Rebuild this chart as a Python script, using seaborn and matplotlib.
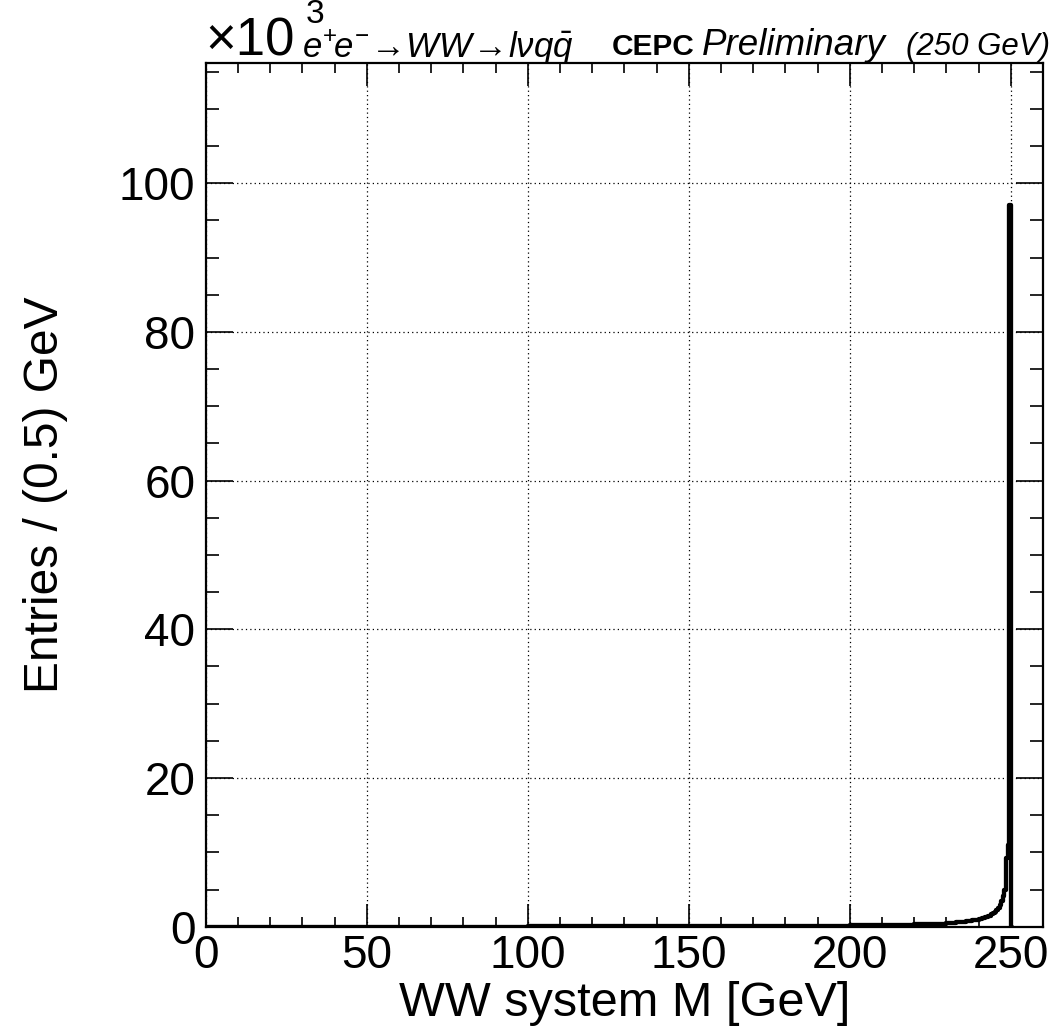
import numpy as np
import pandas as pd
import matplotlib
matplotlib.use("Agg")
import matplotlib.pyplot as plt
import seaborn as sns
from matplotlib.ticker import MultipleLocator, FixedLocator

# ---- data (entries per 0.5 GeV, in units of 10^3) ----
bin_edges = [0, 50, 100, 125, 150, 175, 200, 210, 220, 225, 230, 233, 236, 238,
             240, 241, 242, 243, 244, 244.5, 245, 245.5, 246, 246.5, 247, 247.5,
             248, 248.5, 249, 249.5, 250, 250.5]
entries_k = [0.01, 0.02, 0.04, 0.06, 0.10, 0.15, 0.20, 0.25, 0.30, 0.40, 0.50,
             0.60, 0.75, 0.90, 1.00, 1.15, 1.30, 1.50, 1.70, 1.85, 2.00, 2.20,
             2.50, 2.90, 3.40, 4.10, 5.00, 9.20, 11.0, 97.0, 0.0]

x_ticks = [0, 50, 100, 150, 200, 250]
y_ticks = [0, 20, 40, 60, 80, 100]
x_label = "WW system M [GeV]"
y_label = "Entries / (0.5) GeV"

sns.set_style("ticks")
plt.rcParams['font.family'] = ['Liberation Sans', 'DejaVu Sans']
plt.rcParams['mathtext.fontset'] = 'custom'
plt.rcParams['mathtext.rm'] = 'Liberation Sans'
plt.rcParams['mathtext.it'] = 'Liberation Sans:italic'
plt.rcParams['mathtext.bf'] = 'Liberation Sans:bold'
for k in ['text.color', 'axes.labelcolor', 'xtick.color', 'ytick.color',
          'xtick.labelcolor', 'ytick.labelcolor', 'axes.edgecolor']:
    plt.rcParams[k] = 'black'

W, H = 1058, 1035
fig = plt.figure(figsize=(W / 100, H / 100), dpi=100)
ax = fig.add_axes([205.7 / W, 1 - 926.7 / H, (1043 - 205.7) / W, 864 / H])

edges = np.array(bin_edges)
centers = 0.5 * (edges[:-1] + edges[1:])
df = pd.DataFrame({"mass": centers, "entries": entries_k})

sns.histplot(data=df, x="mass", weights="entries", bins=bin_edges,
             element="step", fill=False, color="black", linewidth=3.1, ax=ax)

ax.set_xlim(0, 260)
ax.set_ylim(0, 116.2)
ax.xaxis.set_major_locator(FixedLocator(x_ticks))
ax.yaxis.set_major_locator(FixedLocator(y_ticks))
ax.xaxis.set_minor_locator(MultipleLocator(10))
ax.yaxis.set_minor_locator(MultipleLocator(5))

ax.set_axisbelow(True)
ax.grid(True, which="major", color="black", linestyle=(0, (1, 2.5)), linewidth=0.9)

for s in ax.spines.values():
    s.set_linewidth(1.6)
    s.set_color("black")
    s.set_visible(True)

ax.tick_params(which="both", direction="in", top=True, right=True,
               color="black", labelcolor="black", width=1.2, labelsize=33)
ax.tick_params(axis="x", which="major", length=16.5, pad=5)
ax.tick_params(axis="x", which="minor", length=7.5)
ax.tick_params(axis="y", which="major", length=19.5, pad=7.5)
ax.tick_params(axis="y", which="minor", length=9.5)

ax.set_xlabel(x_label, fontsize=35, va="center", ha="center", color="black")
ax.set_ylabel(y_label, fontsize=34.5, va="center", ha="center", color="black")
ax.xaxis.set_label_coords(0.5, (926.7 - 1004) / 864)
ax.yaxis.set_label_coords((46 - 205.7) / 837.3, 0.5)

def fx(px):
    return px / W

def fy(py):
    return 1 - py / H

fig.text(fx(205), fy(55), "×10", fontsize=38, ha="left", va="baseline")
fig.text(fx(306), fy(23), "3", fontsize=24, ha="left", va="baseline")
fig.text(fx(302), fy(58), r"$e^{+}\!e^{-}\!{\rightarrow}\!WW\!{\rightarrow}\!l\nu q\bar{q}$",
         fontsize=25, ha="left", va="baseline")
fig.text(fx(612), fy(55), "CEPC", fontsize=21.5, fontweight="bold", ha="left", va="baseline")
fig.text(fx(702), fy(55), "Preliminary", fontsize=26.5, fontstyle="italic", ha="left", va="baseline")
fig.text(fx(906), fy(55), "(250 GeV)", fontsize=22.5, fontstyle="italic", ha="left", va="baseline")

fig.savefig("out.png", dpi=100)
